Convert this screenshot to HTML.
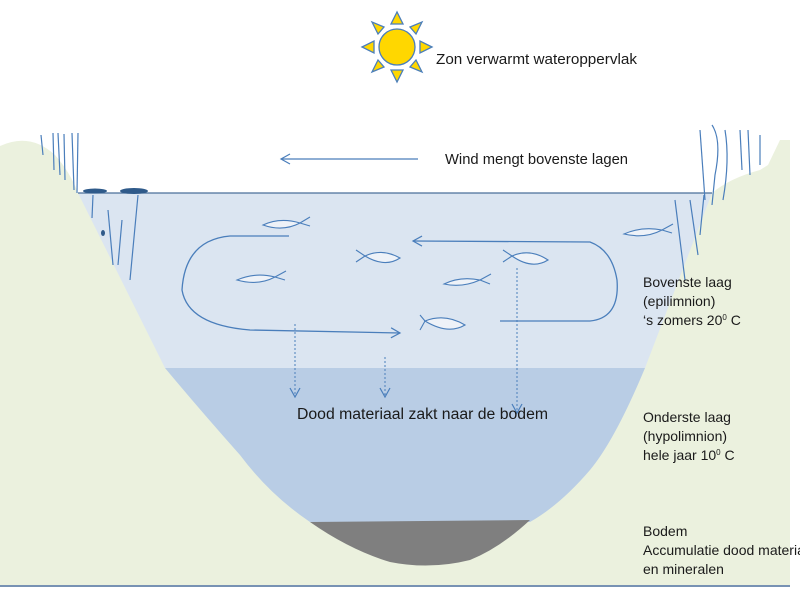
<!DOCTYPE html>
<html><head><style>
html,body{margin:0;padding:0;background:#fff;}
svg{display:block;}
text{font-family:"Liberation Sans",sans-serif;fill:#1a1a1a;}
</style></head><body>
<svg width="800" height="600" viewBox="0 0 800 600">
<defs>
<marker id="a" markerWidth="12" markerHeight="12" refX="10" refY="6" orient="auto" markerUnits="userSpaceOnUse">
<path d="M1,1 L10,6 L1,11" fill="none" stroke="#4a7ebb" stroke-width="1.2"/></marker>
</defs>
<rect width="800" height="600" fill="#fff"/>
<path d="M0,146 Q30,132 55,155 Q70,172 78,193 L712,193 Q730,178 760,170 L768,165 L780,140 L790,140 L790,585 L0,585 Z" fill="#ebf1de"/>
<line x1="0" y1="586" x2="790" y2="586" stroke="#4a6f9a" stroke-width="1.5"/>
<path d="M78,193 L712,193 L645,368 L165,368 Z" fill="#dbe5f1"/>
<path d="M165,368 L645,368 Q615,440 590,470 Q560,505 530,522 L310,522 Q270,495 240,455 Q200,410 165,368 Z" fill="#b9cde5"/>
<path d="M310,522 L530,520 Q500,548 470,560 Q430,570 390,562 Q350,550 310,522 Z" fill="#7f7f7f"/>
<line x1="78" y1="193" x2="712" y2="193" stroke="#4a6f9a" stroke-width="1.2"/>
<g stroke="#4a7ebb" stroke-width="1.2" fill="none">
<path d="M41,135 L43,155"/><path d="M53,133 L54,170"/><path d="M58,133 L60,175"/><path d="M64,134 L65,180"/><path d="M72,133 L74,190"/><path d="M78,133 L77,193"/>
<path d="M93,195 L92,218"/><path d="M108,210 L113,265"/><path d="M122,220 L118,265"/><path d="M138,195 L130,280"/>
<path d="M700,130 L705,200"/><path d="M712,125 Q722,140 715,175 L712,205"/><path d="M725,130 Q730,160 723,200"/><path d="M740,130 L742,170"/><path d="M748,130 L750,175"/><path d="M760,135 L760,165"/>
<path d="M675,200 L685,280"/><path d="M690,200 L698,255"/><path d="M704,195 L700,235"/>
</g>
<g fill="#2f5a8a">
<ellipse cx="95" cy="191" rx="12" ry="2.5"/><ellipse cx="134" cy="191" rx="14" ry="3"/><ellipse cx="103" cy="233" rx="2" ry="3"/>
</g>
<g fill="#ffd700" stroke="#4a7ebb" stroke-width="1.3">
<polygon points="397,12 391,24 403,24"/><polygon points="397,82 391,70 403,70"/>
<polygon points="362,47 374,41 374,53"/><polygon points="432,47 420,41 420,53"/>
<polygon points="372,22 378,34 384,27"/><polygon points="422,22 416,34 410,27"/>
<polygon points="372,72 378,60 384,67"/><polygon points="422,72 416,60 410,67"/>
<circle cx="397" cy="47" r="18"/>
</g>
<text x="436" y="64" font-size="15" textLength="201" lengthAdjust="spacingAndGlyphs">Zon verwarmt wateroppervlak</text>
<line x1="418" y1="159" x2="281" y2="159" stroke="#4a7ebb" stroke-width="1.2" marker-end="url(#a)"/>
<text x="445" y="164" font-size="14.5" textLength="183" lengthAdjust="spacingAndGlyphs">Wind mengt bovenste lagen</text>
<g fill="none" stroke="#4a7ebb" stroke-width="1.3">
<path d="M289,236 L230,236 Q185,240 182,290 Q188,325 250,330 L400,333" marker-end="url(#a)"/>
<path d="M500,321 L590,321 Q620,318 617,280 Q612,250 590,242 L413,241" marker-end="url(#a)"/>
</g>
<g fill="none" stroke="#4a7ebb" stroke-width="1" stroke-dasharray="2,2">
<line x1="295" y1="324" x2="295" y2="397" marker-end="url(#a)"/>
<line x1="385" y1="357" x2="385" y2="397" marker-end="url(#a)"/>
<line x1="517" y1="268" x2="517" y2="413" marker-end="url(#a)"/>
</g>
<g fill="#eef2f8" stroke="#4a7ebb" stroke-width="1.1">
<path d="M263,225 Q280,217 300,223 Q283,232 263,225 Z M300,223 L310,217 M300,223 L310,226"/>
<path d="M237,280 Q255,272 275,277 Q258,286 237,280 Z M275,277 L286,271 M275,277 L285,280"/>
<path d="M365,256 Q382,248 400,258 Q385,268 365,256 Z M365,256 L356,250 M365,256 L356,262"/>
<path d="M444,284 Q460,276 480,280 Q462,288 444,284 Z M480,280 L491,274 M480,280 L490,284"/>
<path d="M512,256 Q530,248 548,260 Q532,270 512,256 Z M512,256 L503,250 M512,256 L503,262"/>
<path d="M425,321 Q445,313 465,325 Q448,335 425,321 Z M425,321 L420,315 M425,321 L420,330"/>
<path d="M624,234 Q642,226 662,230 Q645,239 624,234 Z M662,230 L673,224 M662,230 L672,233"/>
</g>
<g font-size="14">
<text x="643" y="287">Bovenste laag</text>
<text x="643" y="306">(epilimnion)</text>
<text x="643" y="325">‘s zomers 20<tspan font-size="8" dy="-5">0</tspan><tspan dy="5"> C</tspan></text>
<text x="643" y="422">Onderste laag</text>
<text x="643" y="441">(hypolimnion)</text>
<text x="643" y="460">hele jaar 10<tspan font-size="8" dy="-5">0</tspan><tspan dy="5"> C</tspan></text>
<text x="643" y="536">Bodem</text>
<text x="643" y="555">Accumulatie  dood materiaal</text>
<text x="643" y="574">en mineralen</text>
</g>
<text x="297" y="419" font-size="15.5" textLength="251" lengthAdjust="spacingAndGlyphs">Dood materiaal zakt naar de bodem</text>
</svg>
</body></html>
